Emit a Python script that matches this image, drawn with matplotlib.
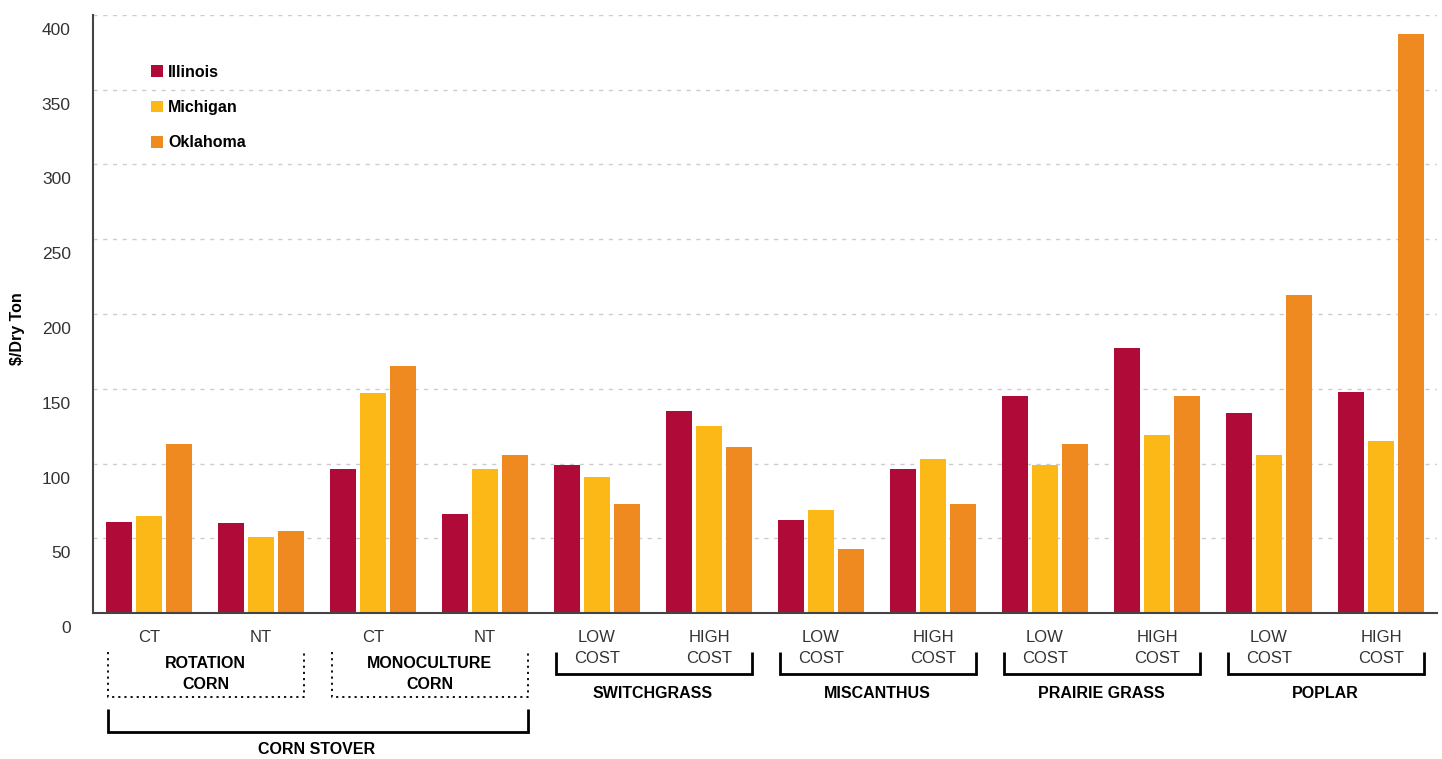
import matplotlib
matplotlib.use("Agg")
import matplotlib.pyplot as plt
import matplotlib.transforms as mtransforms
import numpy as np

plt.rcParams['font.family'] = ['Liberation Sans', 'DejaVu Sans']

# ---- data ----
tick_labels = ["CT", "NT", "CT", "NT",
               "LOW\nCOST", "HIGH\nCOST", "LOW\nCOST", "HIGH\nCOST",
               "LOW\nCOST", "HIGH\nCOST", "LOW\nCOST", "HIGH\nCOST"]
series_names = ["Illinois", "Michigan", "Oklahoma"]
illinois = [61, 60, 96, 66, 99, 135, 62, 96, 145, 177, 134, 148]
michigan = [65, 51, 147, 96, 91, 125, 69, 103, 99, 119, 106, 115]
oklahoma = [113, 55, 165, 106, 73, 111, 43, 73, 113, 145, 213, 387]
y_ticks = [0, 50, 100, 150, 200, 250, 300, 350, 400]

# sub-group (dotted) and group (solid) brackets: (first idx, last idx, label)
subgroups = [(0, 1, "ROTATION\nCORN"), (2, 3, "MONOCULTURE\nCORN")]
groups_low = [(4, 5, "SWITCHGRASS"), (6, 7, "MISCANTHUS"),
              (8, 9, "PRAIRIE GRASS"), (10, 11, "POPLAR")]
groups_high = [(0, 3, "CORN STOVER")]

colors = ["#B00B38", "#FBB817", "#EE8A20"]

W, H = 1442, 759
fig = plt.figure(figsize=(W / 100, H / 100), dpi=100)
ax = fig.add_axes([93 / W, (H - 613) / H, 1344 / W, 598 / H])

x = np.arange(len(tick_labels))
bw = 0.24
off = 0.268
handles = []
for k, (vals, c, name) in enumerate(zip([illinois, michigan, oklahoma], colors, series_names)):
    b = ax.bar(x + (k - 1) * off, vals, width=bw, color=c, label=name, zorder=3)
    handles.append(b)

ax.set_xlim(-0.5, len(tick_labels) - 0.5)
ax.set_ylim(0, 400)

for s in ["top", "right"]:
    ax.spines[s].set_visible(False)
for s in ["left", "bottom"]:
    ax.spines[s].set_color("#444444")
    ax.spines[s].set_linewidth(1.5)
    ax.spines[s].set_zorder(4)

ax.set_axisbelow(True)
ax.yaxis.grid(True, linestyle=(0, (3, 4)), color="#cccccc", linewidth=1)

ax.set_yticks(y_ticks)
ax.set_yticklabels([str(v) for v in y_ticks], fontsize=12.5, color="#333333")
ax.tick_params(axis="y", length=0, pad=16)
shift = mtransforms.ScaledTranslation(0, -14 / 100, fig.dpi_scale_trans)
for lab in ax.get_yticklabels():
    lab.set_transform(lab.get_transform() + shift)

ax.set_xticks(x)
ax.set_xticklabels(tick_labels, fontsize=12, color="#333333", linespacing=1.45)
ax.tick_params(axis="x", length=0, pad=12.5)

fig.text(18 / W, 1 - 329 / H, "\\$/Dry Ton", rotation=90, fontsize=11.5,
         fontweight="bold", ha="center", va="center")

# legend
ax.legend(handles=handles, labels=series_names, loc="upper left",
          bbox_to_anchor=(0.037, 0.93), frameon=False,
          prop={"weight": "bold", "size": 11.5},
          handlelength=0.75, handleheight=0.75, handletextpad=0.35,
          labelspacing=1.27, borderpad=0)

trans = mtransforms.blended_transform_factory(ax.transData, ax.transAxes)


def ya(p):
    return (613 - p) / 598


def bracket(i0, i1, top, bot, ls, lw):
    x0, x1 = i0 - 0.37, i1 + 0.38
    ax.plot([x0, x0, x1, x1], [ya(top), ya(bot), ya(bot), ya(top)],
            transform=trans, clip_on=False, color="black", linestyle=ls,
            linewidth=lw, solid_joinstyle="miter", solid_capstyle="butt")


for i0, i1, lab in subgroups:
    bracket(i0, i1, 652, 697, (0, (1.2, 2.2)), 1.3)
    ax.text((i0 + i1) / 2 + 0.005, ya(674), lab, transform=trans, ha="center",
            va="center", fontsize=11.5, fontweight="bold", linespacing=1.45)
for i0, i1, lab in groups_low:
    bracket(i0, i1, 652, 674, "-", 2)
    ax.text((i0 + i1) / 2, ya(694), lab, transform=trans, ha="center",
            va="center", fontsize=11.5, fontweight="bold")
for i0, i1, lab in groups_high:
    bracket(i0, i1, 709, 732, "-", 2)
    ax.text((i0 + i1) / 2, ya(750), lab, transform=trans, ha="center",
            va="center", fontsize=11.5, fontweight="bold")

fig.savefig("out.png", dpi=100)
